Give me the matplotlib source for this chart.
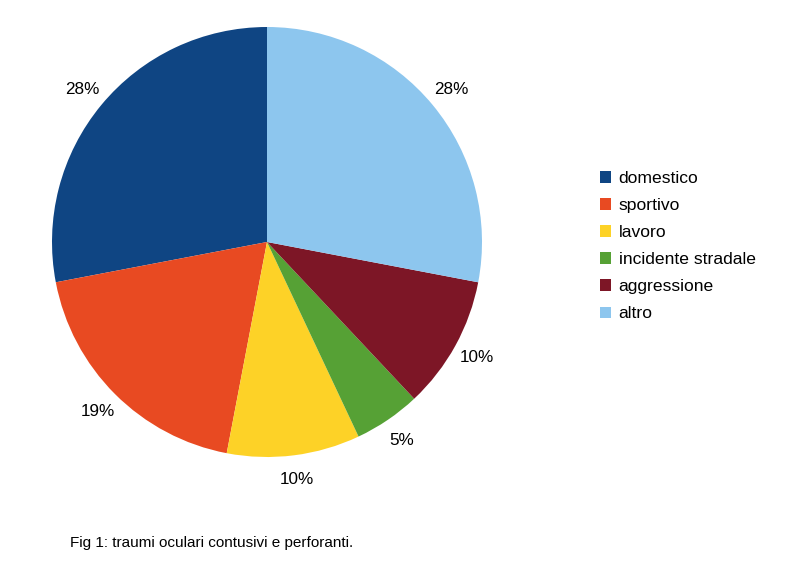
import matplotlib
matplotlib.use("Agg")
import matplotlib.pyplot as plt

plt.rcParams['font.family'] = ['Liberation Sans', 'DejaVu Sans']

categories = ["domestico", "sportivo", "lavoro", "incidente stradale", "aggressione", "altro"]
values = [28, 19, 10, 5, 10, 28]
colors = ["#0F4583", "#E84A22", "#FDD227", "#56A135", "#7D1626", "#8DC6EE"]

fig = plt.figure(figsize=(7.85, 5.74), dpi=100)
cx, cy, r = 267, 242, 215
ax = fig.add_axes([(cx - r) / 785, 1 - (cy + r) / 574, 2 * r / 785, 2 * r / 574])

wedges, texts, autotexts = ax.pie(values, colors=colors, startangle=90, counterclock=True,
                                  autopct='%1.0f%%', pctdistance=1.115,
                                  wedgeprops=dict(linewidth=0))
for t in autotexts:
    t.set_fontsize(12.3)
    t.set_color("black")
ax.set_xlim(-1, 1)
ax.set_ylim(-1, 1)
ax.set_aspect("equal")

fig.legend(wedges, categories, loc="upper left", bbox_to_anchor=(600 / 785, 1 - 171 / 574),
           frameon=False, fontsize=12.6, handlelength=0.62, handleheight=0.62,
           handletextpad=0.45, labelspacing=0.69, borderaxespad=0, borderpad=0)

fig.text(70 / 785, 1 - 543 / 574, "Fig 1: traumi oculari contusivi e perforanti.",
         fontsize=11, va="center", ha="left")

fig.savefig("out.png", dpi=100)
